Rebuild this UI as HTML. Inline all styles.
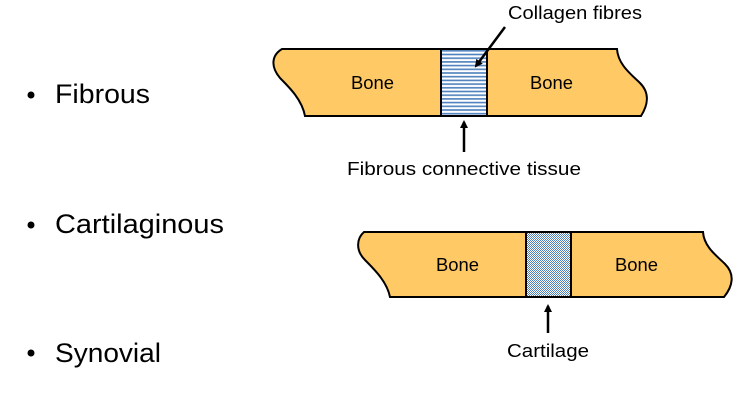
<!DOCTYPE html>
<html><head><meta charset="utf-8"><style>
html,body{margin:0;padding:0;background:#fff;}
body{width:753px;height:403px;overflow:hidden;position:relative;font-family:"Liberation Sans",sans-serif;}
</style></head><body>
<svg width="753" height="403" viewBox="0 0 753 403" xmlns="http://www.w3.org/2000/svg" style="position:absolute;left:0;top:0">
<defs>
<pattern id="hl" x="0" y="49" width="4" height="3.7" patternUnits="userSpaceOnUse">
<rect width="4" height="3.7" fill="#fff"/><rect y="1" width="4" height="1.6" fill="#4f81bd"/>
</pattern>
<pattern id="ck" x="0" y="0" width="2" height="2" patternUnits="userSpaceOnUse">
<rect width="2" height="2" fill="#fff"/><rect width="1" height="1" fill="#4f81bd"/><rect x="1" y="1" width="1" height="1" fill="#4f81bd"/>
</pattern>
<marker id="ah" markerWidth="8" markerHeight="8" refX="6" refY="4" orient="auto" markerUnits="userSpaceOnUse" viewBox="0 0 8 8">
<path d="M0,0 L8,4 L0,8 z" fill="#000"/></marker>
</defs>
<g font-size="27" fill="#000">
<circle cx="31" cy="95" r="3.5"/><text x="55" y="103" textLength="95" lengthAdjust="spacingAndGlyphs">Fibrous</text>
<circle cx="31" cy="225" r="3.5"/><text x="55" y="233" textLength="169" lengthAdjust="spacingAndGlyphs">Cartilaginous</text>
<circle cx="31" cy="353" r="3.5"/><text x="55" y="362" textLength="106" lengthAdjust="spacingAndGlyphs">Synovial</text>
</g>
<!-- top diagram -->
<path d="M282,49 L441,49 L441,116 L305,116 C302,100 290,88 280,78 C270,66 272,55 282,49 Z" fill="#ffc965" stroke="#000" stroke-width="2"/>
<rect x="441" y="49" width="46" height="67" fill="url(#hl)" stroke="#000" stroke-width="2"/>
<path d="M487,49 L617,49 C618,65 632,75 640,83 C650,93 648,105 641,116 L487,116 Z" fill="#ffc965" stroke="#000" stroke-width="2"/>
<g font-size="18" fill="#000">
<text x="351" y="89" textLength="43" lengthAdjust="spacingAndGlyphs">Bone</text>
<text x="530" y="89" textLength="43" lengthAdjust="spacingAndGlyphs">Bone</text>
<text x="508" y="19" textLength="134" lengthAdjust="spacingAndGlyphs">Collagen fibres</text>
<text x="347" y="175" textLength="234" lengthAdjust="spacingAndGlyphs">Fibrous connective tissue</text>
</g>
<line x1="505" y1="27" x2="476" y2="66" stroke="#000" stroke-width="2.5" marker-end="url(#ah)"/>
<line x1="464" y1="152" x2="464" y2="122" stroke="#000" stroke-width="2.5" marker-end="url(#ah)"/>
<!-- bottom diagram -->
<path d="M364,232 L526,232 L526,297 L390,297 C387,282 375,270 365,260 C355,250 357,238 364,232 Z" fill="#ffc965" stroke="#000" stroke-width="2"/>
<rect x="526" y="232" width="45" height="65" fill="url(#ck)" stroke="#000" stroke-width="2"/>
<path d="M571,232 L703,232 C704,247 717,256 725,264 C735,274 733,286 724,297 L571,297 Z" fill="#ffc965" stroke="#000" stroke-width="2"/>
<g font-size="18" fill="#000">
<text x="436" y="271" textLength="43" lengthAdjust="spacingAndGlyphs">Bone</text>
<text x="615" y="271" textLength="43" lengthAdjust="spacingAndGlyphs">Bone</text>
<text x="507" y="357" textLength="82" lengthAdjust="spacingAndGlyphs">Cartilage</text>
</g>
<line x1="548" y1="333" x2="548" y2="306" stroke="#000" stroke-width="2.5" marker-end="url(#ah)"/>
</svg>
</body></html>
